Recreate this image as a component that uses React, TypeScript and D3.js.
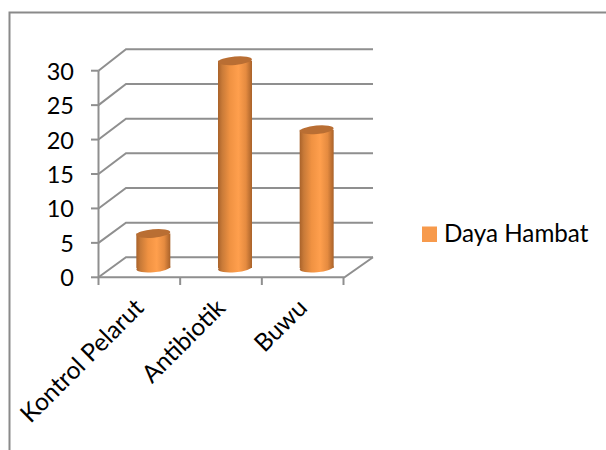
import React from "react";
import * as d3 from "d3";

const categories = ["Kontrol Pelarut", "Antibiotik", "Buwu"];
const seriesName = "Daya Hambat";
const values = [5, 30, 20];
const yTicks = [0, 5, 10, 15, 20, 25, 30];

const W = 606, H = 450;
const font = "Lato, Carlito, Calibri, sans-serif";
const gridC = "#8f8f8f";

export default function App() {
  const yFront = d3.scaleLinear().domain([0, 30]).range([277.3, 70.7]);
  const yBack = d3.scaleLinear().domain([0, 30]).range([257.3, 49.3]);
  const yBar = d3.scaleLinear().domain([0, 30]).range([268, 60.7]);
  const x = d3.scaleBand<string>().domain(categories).range([98.5, 343.5]);
  const xFront = 98.5, xBack = 126, xEnd = 373, xFrontEnd = 344.5;
  const rx = 17, ry = 4.2, tilt = -5;
  const bw = x.bandwidth();
  return (
    <svg width={W} height={H} style={{ position: "absolute", left: 0, top: 0, background: "#fff" }}>
      <defs>
        <linearGradient id="cyl" x1="0" x2="1" y1="0" y2="0">
          <stop offset="0" stopColor="#a9622a" />
          <stop offset="0.12" stopColor="#c87a38" />
          <stop offset="0.35" stopColor="#f09242" />
          <stop offset="0.6" stopColor="#ff9f4d" />
          <stop offset="0.82" stopColor="#e58b40" />
          <stop offset="1" stopColor="#a9622a" />
        </linearGradient>
      </defs>
      <path d="M606,12.5H9.5V450" fill="none" stroke="#8a8a8a" strokeWidth={2} />
      <g fill="none" stroke={gridC} strokeWidth={2}>
        {yTicks.map((t) => (
          <g key={t}>
            <path d={`M${xFront},${yFront(t)}L${xBack},${yBack(t)}H${xEnd}`} />
            <path d={`M91,${yFront(t)}H${xFront}`} />
          </g>
        ))}
        <path d={`M${xFront},${yFront(30)}V${yFront(0)}H${xFrontEnd}L${xEnd},${yBack(0)}`} />
        {[...categories.map((c) => x(c)!), 98.5 + bw * 3].map((px) => (
          <path key={px} d={`M${px},${yFront(0)}V285`} />
        ))}
      </g>
      {categories.map((c, i) => {
        const cx = x(c)! + bw / 2 + 14;
        const top = yBar(values[i]);
        const base = yBar(0);
        return (
          <g key={c}>
            <ellipse cx={cx} cy={base} rx={rx} ry={ry} transform={`rotate(${tilt} ${cx} ${base})`} fill="url(#cyl)" />
            <rect x={cx - rx} y={top} width={rx * 2} height={base - top} fill="url(#cyl)" />
            <ellipse cx={cx} cy={top} rx={rx} ry={ry} transform={`rotate(${tilt} ${cx} ${top})`} fill="#b96e33" />
          </g>
        );
      })}
      {yTicks.map((t) => (
        <text key={t} x={74} y={yFront(t) + 9} textAnchor="end" fontFamily={font} fontSize={23.5} fill="#000">{t}</text>
      ))}
      {categories.map((c) => {
        const px = x(c)! + bw / 2 + 1.5;
        return (
          <text key={c} transform={`translate(${px},305) rotate(-45)`} textAnchor="end" dominantBaseline="middle" fontFamily={font} fontSize={24.5} fill="#000">{c}</text>
        );
      })}
      <rect x={422} y={226.5} width={15} height={15.5} fill="#f79a4c" />
      <text x={444} y={241.5} fontFamily={font} fontSize={24.2} fill="#000">{seriesName}</text>
    </svg>
  );
}
